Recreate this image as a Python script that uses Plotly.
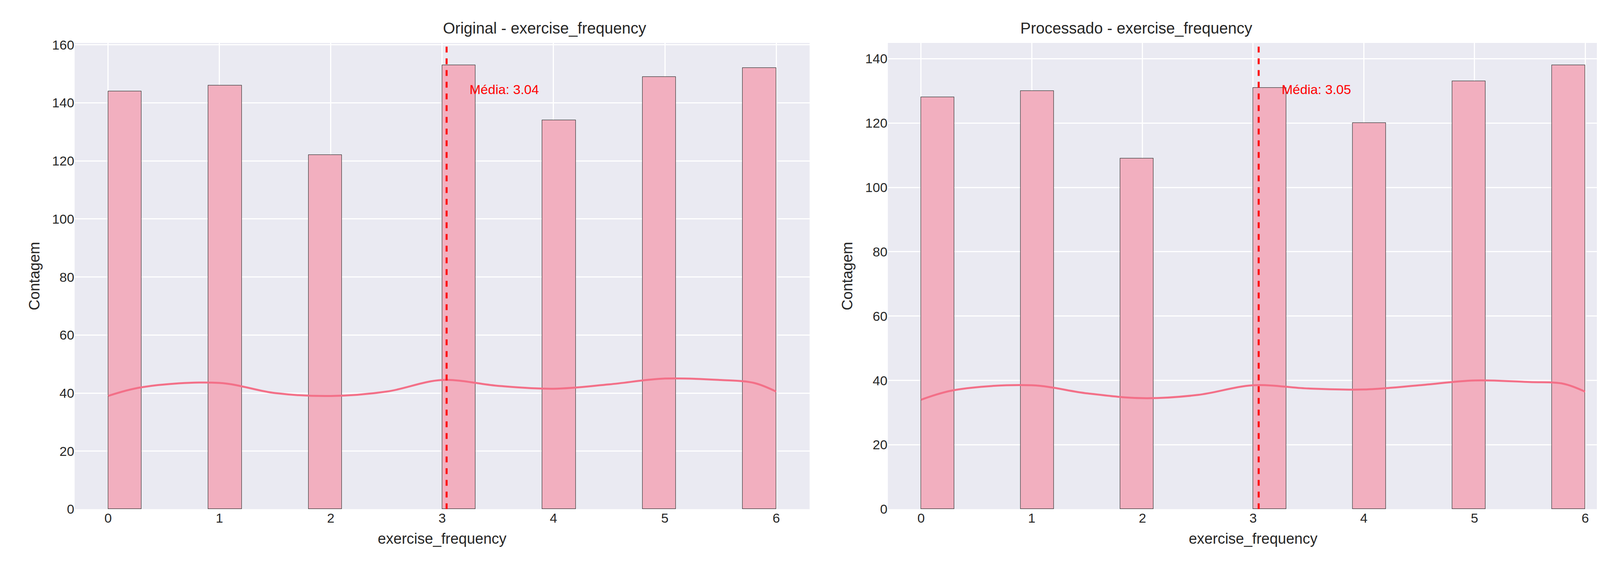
import plotly.graph_objects as go

# histogram bins (width 0.3), one non-empty bin per integer value
bin_left = [0.0, 0.9, 1.8, 3.0, 3.9, 4.8, 5.7]
orig_counts = [144, 146, 122, 153, 134, 149, 152]
proc_counts = [128, 130, 109, 131, 120, 133, 138]
bin_width = 0.3

# kde curve (scaled to counts)
kde_x = [0, 0.3, 1.0, 1.5, 2.0, 2.5, 3.0, 3.5, 4.0, 4.5, 5.0, 5.5, 5.8, 6.0]
orig_kde = [39, 42, 43.5, 40, 39, 40.5, 44.5, 42.5, 41.5, 43, 45, 44.5, 43.5, 40.5]
proc_kde = [34, 37, 38.5, 36, 34.5, 35.5, 38.5, 37.5, 37.2, 38.5, 40, 39.5, 39, 36.5]

means = [3.04, 3.05]
titles = ["Original - exercise_frequency", "Processado - exercise_frequency"]
ymax = [160.65, 144.9]

BAR = "rgba(242,175,191,1)"
LINE = "#f37088"
FONT = "Liberation Sans, Arial, sans-serif"

fig = go.Figure()
centers = [b + bin_width / 2 for b in bin_left]
for i, (counts, kde) in enumerate([(orig_counts, orig_kde), (proc_counts, proc_kde)]):
    xa = "x" if i == 0 else "x2"
    ya = "y" if i == 0 else "y2"
    fig.add_trace(go.Bar(x=centers, y=counts, width=bin_width, xaxis=xa, yaxis=ya,
                         marker=dict(color=BAR, line=dict(color="#333333", width=1.2)),
                         showlegend=False))
    fig.add_trace(go.Scatter(x=kde_x, y=kde, mode="lines", xaxis=xa, yaxis=ya,
                             line=dict(color=LINE, width=5, shape="spline"),
                             showlegend=False))
    fig.add_trace(go.Scatter(x=[means[i], means[i]], y=[0, ymax[i]], mode="lines",
                             xaxis=xa, yaxis=ya,
                             line=dict(color="red", width=5, dash="dash"),
                             showlegend=False))
    fig.add_annotation(x=means[i] + 0.2, y=ymax[i] * 0.9, xref=xa, yref=ya,
                       text=f"Média: {means[i]:.2f}", showarrow=False,
                       xanchor="left", yanchor="middle",
                       font=dict(color="red", size=34, family=FONT))

ax = dict(showgrid=True, gridcolor="white", gridwidth=2.5, zeroline=False,
          tickfont=dict(size=34, color="#262626", family=FONT), ticks="",
          title_font=dict(size=38, color="#262626", family=FONT), showline=False)
fig.update_layout(
    width=4171, height=1468, margin=dict(l=0, r=0, t=0, b=0),
    paper_bgcolor="white", plot_bgcolor="#eaeaf2", bargap=0,
    xaxis=dict(ax, domain=[0.0439, 0.495], range=[-0.3, 6.3], dtick=1,
               title=dict(text="exercise_frequency", standoff=20), anchor="y"),
    yaxis=dict(ax, domain=[0.1063, 0.9387], range=[0, ymax[0]], dtick=20,
               title=dict(text="Contagem", standoff=20), anchor="x"),
    xaxis2=dict(ax, domain=[0.543, 0.9914], range=[-0.3, 6.3], dtick=1,
                title=dict(text="exercise_frequency", standoff=20), anchor="y2"),
    yaxis2=dict(ax, domain=[0.1063, 0.9387], range=[0, ymax[1]], dtick=20,
                title=dict(text="Contagem", standoff=20), anchor="x2"),
)
for i, (x0, x1) in enumerate([(0.0439, 0.495), (0.543, 0.9914)]):
    fig.add_annotation(x=(x0 + x1) / 2, y=0.9387, xref="paper", yref="paper",
                       text=titles[i], showarrow=False, yanchor="bottom", yshift=14,
                       font=dict(size=40, color="#262626", family=FONT))

fig.write_html("out.html")
